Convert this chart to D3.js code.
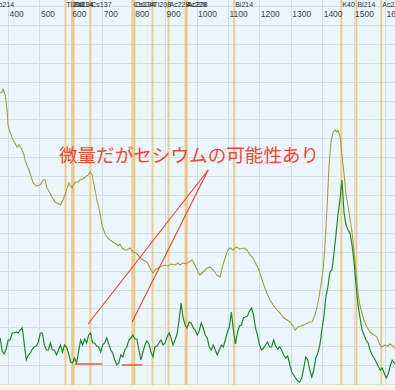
<!DOCTYPE html>
<html><head><meta charset="utf-8">
<script src="https://cdn.jsdelivr.net/npm/d3@7/dist/d3.min.js"></script>
<style>body{margin:0;background:#fff;overflow:hidden}</style>
</head><body><script>
// ---------- data ----------
const tickValues = [400,500,600,700,800,900,1000,1100,1200,1300,1400,1500,1600];
const markerNames = ["Pb214","Tl208","Cs134","Bi214","Cs137","Cs134","Cs134","Tl208","Ac228","Ac228","Ac228","Bi214","K40","Bi214","Ac228"];
const markerEnergies = [352,583,605,609,662,796,802,860,911,965,969,1120,1461,1509,1588];

// background spectrum (olive): energy keV / counts
const bgEnergy = [375,381,384,391,397,400,406,416,422,429,435,445,451,454,464,470,480,489,502,512,518,524,534,540,550,556,566,572,575,581,588,594,597,604,607,616,623,629,639,645,655,661,668,671,677,683,693,699,709,718,725,734,744,750,756,763,772,779,788,798,807,820,830,842,852,861,868,877,890,900,909,919,932,941,947,957,967,976,986,992,1002,1011,1021,1034,1043,1053,1065,1075,1084,1094,1100,1107,1116,1126,1138,1151,1161,1170,1180,1186,1196,1202,1212,1224,1234,1244,1256,1266,1278,1288,1298,1307,1314,1323,1333,1339,1349,1358,1368,1377,1384,1390,1396,1403,1409,1416,1422,1428,1435,1441,1447,1450,1457,1463,1470,1476,1482,1489,1495,1501,1508,1514,1520,1530,1539,1552,1561,1574,1584,1590,1600,1609,1616,1625,1632];
const bgCounts = [292,293,296,290,275,260,253,245,242,238,240,235,230,225,217,212,202,199,200,205,205,197,192,188,183,182,180,183,185,190,197,202,200,197,200,203,203,205,206,208,210,213,210,205,195,185,172,160,151,147,145,143,141,139,141,137,135,135,137,133,132,128,125,123,117,112,115,117,119,120,119,121,120,122,120,122,121,123,125,122,115,110,113,117,118,115,110,108,120,130,135,137,135,138,136,137,135,130,127,123,117,112,102,92,85,80,75,72,67,65,63,59,55,58,59,60,61,63,63,70,78,88,100,115,140,180,220,243,253,255,253,255,249,230,210,190,180,165,153,135,113,92,80,68,60,53,51,48,40,38,40,39,41,39,37];

// sample spectrum (green): channel calibration and counts per channel
const sampleStartKeV = 375, sampleStepKeV = 6.4;
const sampleCounts = [
47,34,31,36,45,45,52,52,53,52,
55,57,41,25,30,32,36,38,39,43,
52,52,40,35,35,42,35,35,30,35,
40,33,40,38,32,23,22,27,22,33,
45,40,46,42,50,52,42,42,39,38,
33,40,42,47,41,35,32,25,20,22,
30,28,35,38,45,47,50,46,46,35,
25,33,40,44,41,33,28,38,39,42,
45,40,42,48,52,47,40,45,51,65,
82,67,60,57,63,62,57,55,50,54,
62,57,50,47,38,35,40,35,30,35,
40,38,45,53,58,73,55,41,52,59,
60,67,68,69,74,77,70,57,50,40,
35,37,40,43,38,38,45,39,36,38,
35,30,27,29,21,13,10,7,4,3,
7,17,28,25,15,8,15,27,32,40,
55,68,88,98,113,115,131,150,170,185,
205,173,160,155,152,140,123,100,80,67,
55,50,45,42,35,30,27,23,19,15,
17,12,7,11,19,25,22,20];

// annotation (in data units: keV, counts)
const noteText = "微量だがセシウムの可能性あり";
const notePos = [562, 223];
const noteApex = [1037, 215];
const noteTargets = [[655, 61], [795, 63]];
const baselineSegs = [[613, 699, 21], [763, 827, 20]];

// ---------- drawing ----------
const W = 395, H = 390, plotBottom = 385;
const x = d3.scaleLinear().domain([400, 1600]).range([8, 385]);
const y = d3.scaleLinear().domain([0, 385]).range([385, 0]);

const svg = d3.select("body").append("svg").attr("width", W).attr("height", H);
svg.append("rect").attr("width", W).attr("height", H).attr("fill", "#fdf6dc");
svg.append("rect").attr("width", W).attr("height", plotBottom).attr("fill", "#ebf5fd");

svg.append("defs").append("clipPath").attr("id", "clip")
  .append("rect").attr("width", W).attr("height", plotBottom);
const g = svg.append("g").attr("clip-path", "url(#clip)");

// horizontal grid
const yGrid = d3.range(1, 385, 18.9);
g.selectAll("line.hg").data(yGrid).enter().append("line")
  .attr("x1", 0).attr("x2", W).attr("y1", d => Math.round(y(d)) + 0.5).attr("y2", d => Math.round(y(d)) + 0.5)
  .attr("stroke", "#d2dfeb").attr("stroke-width", 1);
// vertical grid
g.selectAll("line.vg").data(tickValues).enter().append("line")
  .attr("x1", d => Math.round(x(d)) + 0.5).attr("x2", d => Math.round(x(d)) + 0.5)
  .attr("y1", 0).attr("y2", plotBottom)
  .attr("stroke", "#d2dbe6").attr("stroke-width", 1);

// nuclide markers
g.selectAll("line.mk").data(markerEnergies).enter().append("line")
  .attr("x1", d => x(d)).attr("x2", d => x(d)).attr("y1", 0).attr("y2", plotBottom)
  .attr("stroke", "#eec36a").attr("stroke-opacity", 0.8).attr("stroke-width", 2);

// axis tick labels
g.selectAll("text.tk").data(tickValues).enter().append("text")
  .attr("x", d => x(d) + 1.5).attr("y", 17)
  .attr("font-family", "Liberation Sans, Arial, sans-serif").attr("font-size", 8.5)
  .attr("fill", "#444").text(d => d);

// marker labels
g.selectAll("text.mk").data(markerEnergies).enter().append("text")
  .attr("x", d => x(d) + 1).attr("y", 7)
  .attr("font-family", "Liberation Sans, Arial, sans-serif").attr("font-size", 7)
  .attr("fill", "#333").text((d, i) => markerNames[i]);

// spectra
const bgLine = d3.line().x((d, i) => x(bgEnergy[i])).y(d => y(d));
g.append("path").datum(bgCounts).attr("d", bgLine)
  .attr("fill", "none").attr("stroke", "#a3a332").attr("stroke-width", 1.1);

const smLine = d3.line().x((d, i) => x(sampleStartKeV + i * sampleStepKeV)).y(d => y(d));
g.append("path").datum(sampleCounts).attr("d", smLine)
  .attr("fill", "none").attr("stroke", "#1f8a24").attr("stroke-width", 1.2);

// annotation
const red = "#ee4a2a";
g.selectAll("line.an").data(noteTargets).enter().append("line")
  .attr("x1", d => x(d[0])).attr("y1", d => y(d[1]))
  .attr("x2", x(noteApex[0])).attr("y2", y(noteApex[1]))
  .attr("stroke", red).attr("stroke-width", 1.2);
g.selectAll("line.bs").data(baselineSegs).enter().append("line")
  .attr("x1", d => x(d[0])).attr("x2", d => x(d[1]))
  .attr("y1", d => y(d[2])).attr("y2", d => y(d[2]))
  .attr("stroke", red).attr("stroke-width", 1.4);
g.append("text").attr("x", x(notePos[0])).attr("y", y(notePos[1]))
  .attr("font-family", "Noto Sans CJK JP, sans-serif").attr("font-size", 18.6)
  .attr("fill", red).text(noteText);
</script></body></html>
